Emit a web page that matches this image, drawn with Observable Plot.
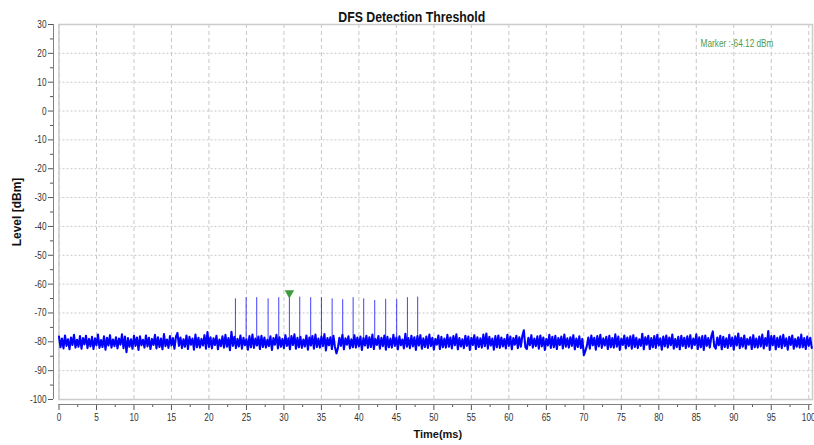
<!DOCTYPE html>
<html><head><meta charset="utf-8">
<script src="https://cdn.jsdelivr.net/npm/d3@7"></script>
<script src="https://cdn.jsdelivr.net/npm/@observablehq/plot@0.6"></script>
<style>
body{margin:0;background:#fff;}
#chart{width:814px;height:445px;}
</style></head><body><div id="chart"></div>
<script>
const title = "DFS Detection Threshold";
const xLabel = "Time(ms)";
const yLabel = "Level [dBm]";
const markerLabel = "Marker :-64.12 dBm";

const xTicks = [0,5,10,15,20,25,30,35,40,45,50,55,60,65,70,75,80,85,90,95,100];
const xMinorTicks = [2.5,7.5,12.5,17.5,22.5,27.5,32.5,37.5,42.5,47.5,52.5,57.5,62.5,67.5,72.5,77.5,82.5,87.5,92.5,97.5];
const yTicks = [-100,-90,-80,-70,-60,-50,-40,-30,-20,-10,0,10,20,30];
const yMinorTicks = [-95,-85,-75,-65,-55,-45,-35,-25,-15,-5,5,15,25];

// noise trace, sampled every 0.2 ms from 0 ms
const traceStart = 0;
const traceStep = 0.2;
const traceLevels = [
-78.2,-81.9,-78.9,-82.3,-77.8,-81.4,-79.1,-82.6,-78.5,-81.1,-77.6,-82.0,-79.3,-81.7,-78.0,-82.4,-78.7,-80.9,-77.9,-82.2,
-79.0,-81.6,-78.3,-82.5,-78.8,-81.2,-77.5,-82.1,-79.4,-81.8,-78.1,-82.7,-78.6,-81.3,-77.7,-82.0,-79.2,-81.5,-78.4,-82.3,
-78.9,-81.0,-77.4,-82.2,-78.2,-83.6,-78.7,-81.7,-79.1,-82.4,-77.9,-81.4,-78.5,-82.8,-78.1,-81.2,-79.3,-82.0,-77.8,-81.6,
-78.6,-82.5,-79.0,-81.1,-77.6,-82.3,-78.4,-81.8,-78.9,-82.6,-77.3,-81.5,-79.2,-82.1,-78.0,-81.3,-78.7,-82.4,-78.2,-76.9,
-81.4,-78.5,-82.2,-79.1,-81.7,-77.8,-82.5,-78.3,-81.0,-78.9,-82.7,-77.5,-81.9,-78.6,-82.0,-79.0,-81.3,-77.7,-82.4,-76.6,
-81.8,-78.4,-82.3,-78.8,-81.1,-77.9,-82.6,-79.2,-81.5,-78.1,-82.0,-77.6,-81.7,-78.7,-82.9,-76.5,-81.4,-78.3,-82.2,-79.0,
-81.6,-77.8,-82.4,-78.6,-81.2,-79.1,-82.7,-78.0,-81.9,-77.5,-82.1,-78.9,-81.3,-78.2,-82.5,-77.9,-81.8,-78.5,-82.0,-79.3,
-81.5,-78.1,-82.8,-78.7,-81.0,-77.6,-82.3,-78.4,-81.7,-79.0,-82.2,-77.7,-81.4,-78.8,-82.6,-78.0,-81.1,-77.4,-82.4,-78.6,
-81.9,-78.3,-82.1,-79.2,-81.6,-77.8,-82.7,-78.5,-81.3,-78.0,-82.4,-77.5,-81.8,-78.9,-82.0,-78.2,-81.5,-77.3,-83.0,-78.7,
-81.2,-78.4,-82.5,-77.9,-81.7,-84.0,-82.2,-78.6,-81.4,-77.6,-82.6,-78.8,-81.0,-78.1,-82.3,-79.1,-81.9,-77.7,-82.0,-78.5,
-81.6,-78.2,-82.8,-78.7,-81.3,-77.9,-82.1,-78.4,-81.8,-77.5,-82.5,-79.0,-81.1,-78.0,-82.4,-78.6,-81.5,-77.8,-82.7,-78.3,
-81.9,-78.9,-82.0,-77.6,-81.4,-78.5,-82.6,-78.1,-81.2,-79.2,-82.3,-77.2,-81.7,-78.7,-82.2,-77.9,-81.6,-78.4,-82.8,-78.0,
-81.3,-77.7,-82.4,-78.8,-81.8,-78.2,-82.1,-77.5,-81.5,-78.6,-82.7,-79.0,-81.0,-77.8,-82.5,-78.3,-81.9,-78.9,-82.0,-77.6,
-81.7,-78.5,-82.3,-78.0,-81.2,-77.4,-82.6,-78.7,-81.6,-79.1,-82.2,-77.9,-81.4,-78.2,-82.8,-78.6,-81.1,-77.7,-82.5,-78.4,
-81.8,-78.8,-82.0,-77.5,-81.5,-77.1,-82.4,-78.3,-81.3,-78.9,-82.7,-78.0,-81.9,-77.8,-82.1,-78.5,-81.6,-79.0,-82.3,-77.6,
-81.4,-78.2,-82.6,-78.7,-81.0,-77.9,-82.2,-78.4,-81.7,-78.0,-76.0,-81.8,-82.5,-78.6,-81.2,-77.7,-82.0,-78.9,-81.5,-78.1,
-82.4,-77.8,-81.6,-78.5,-82.8,-79.0,-81.3,-77.6,-82.1,-78.3,-81.9,-77.9,-82.5,-78.7,-81.1,-78.2,-82.3,-77.5,-81.7,-78.8,
-82.0,-78.4,-81.4,-77.7,-82.6,-78.9,-81.8,-78.1,-82.2,-79.0,-84.6,-83.2,-81.5,-78.5,-82.4,-77.8,-81.2,-78.6,-82.7,-78.0,
-81.6,-77.6,-82.1,-78.8,-81.3,-78.3,-82.5,-77.9,-81.9,-78.7,-82.0,-77.4,-81.7,-78.2,-82.8,-78.9,-81.1,-77.8,-82.3,-78.5,
-81.5,-78.1,-82.4,-77.7,-81.8,-78.6,-82.2,-79.1,-81.4,-77.2,-82.6,-78.4,-81.0,-77.9,-82.5,-78.7,-81.9,-78.0,-82.1,-77.6,
-81.3,-78.8,-82.7,-78.2,-81.6,-77.8,-82.0,-78.5,-81.2,-77.5,-82.4,-79.0,-81.8,-78.3,-82.6,-77.9,-81.5,-78.6,-82.2,-78.1,
-81.7,-77.7,-82.3,-78.9,-81.1,-77.4,-82.5,-78.4,-81.9,-78.0,-82.8,-77.8,-81.4,-78.7,-82.0,-78.2,-76.4,-81.6,-82.4,-78.5,
-81.2,-77.9,-82.6,-78.3,-81.8,-78.8,-82.1,-77.6,-81.5,-78.5,-82.7,-78.1,-81.3,-77.1,-82.2,-78.6,-81.7,-77.8,-82.4,-79.0,
-81.0,-78.4,-82.5,-77.7,-81.9,-78.9,-82.0,-78.2,-81.6,-77.5,-82.3,-78.7,-81.4,-76.3,-82.8,-78.0,-81.2,-77.9,-82.6,-78.6,
-81.8,-78.1,-82.2,-77.6,-81.5,-78.8,-82.7,-78.3,-81.1,-77.8,-82.4,-79.0,-81.7,-78.4,-82.0,-77.5,-81.9,-78.7,-82.5,-78.2,
-81.4,-78.6,-82.1
];

// radar pulses
const pulseTimes  = [23.53,24.96,26.37,27.89,29.31,30.73,32.11,33.57,35.0,36.43,37.84,39.23,40.64,42.11,43.57,45.04,46.47,47.84];
const pulseLevels = [-65.1,-64.7,-64.7,-65.1,-64.7,-64.1,-64.5,-64.7,-64.7,-65.1,-65.4,-64.7,-65.1,-65.7,-65.3,-65.4,-64.7,-64.5];
const pulseBase = -80;

const markerTime = 30.73;
const markerLevel = -64.12;

const trace = traceLevels.map((level, i) => ({t: traceStart + i * traceStep, level}));
const pulses = pulseTimes.map((t, i) => ({t, level: pulseLevels[i], base: pulseBase}));
const marker = [{t: markerTime, level: markerLevel}];

const sans = "'Liberation Sans',Arial,sans-serif";
const fmt = d => String(d);

const chart = Plot.plot({
  width: 814,
  height: 445,
  marginLeft: 58.5,
  marginRight: 2,
  marginTop: 24,
  marginBottom: 46,
  x: {domain: [0, 100.5]},
  y: {domain: [-100, 30]},
  style: {fontFamily: sans, fontSize: "11px", color: "#333", background: "#fff"},
  marks: [
    Plot.gridX(xTicks, {stroke: "#c8c8c8", strokeOpacity: 1, strokeDasharray: "4,3"}),
    Plot.gridY(yTicks, {stroke: "#c8c8c8", strokeOpacity: 1, strokeDasharray: "2,2"}),
    Plot.frame({stroke: "#cccccc", strokeWidth: 1.5}),
    Plot.axisY(yTicks, {anchor: "left", tickSize: 5, tickPadding: 2, dx: -5.5, label: null, stroke: "#555", tickFormat: fmt}),
    Plot.axisY(yMinorTicks, {anchor: "left", tickSize: 3, dx: -5.5, text: null, label: null, stroke: "#555"}),
    Plot.axisX(xTicks, {anchor: "bottom", tickSize: 6, tickPadding: 3, dy: 5, label: null, stroke: "#555", tickFormat: fmt}),
    Plot.axisX(xMinorTicks, {anchor: "bottom", tickSize: 3, dy: 5, text: null, label: null, stroke: "#555"}),
    Plot.ruleX([0], {dx: -5.5, stroke: "#808080"}),
    Plot.ruleY([-100], {dy: 5, stroke: "#808080"}),
    Plot.line(trace, {x: "t", y: "level", stroke: "#0000ff", strokeWidth: 2.1}),
    Plot.ruleX(pulses, {x: "t", y1: "base", y2: "level", stroke: "#0000ff", strokeOpacity: 0.75, strokeWidth: 1}),
    Plot.dot(marker, {x: "t", y: "level", symbol: "triangle", rotate: 180, r: 3.5, fill: "#3d9a3d", stroke: null, dy: -3}),
    Plot.text([markerLabel], {frameAnchor: "top-right", dx: -39, dy: 19, textAnchor: "end", lineAnchor: "middle", fill: "#4e9a4e", fontSize: 11}),
    Plot.text([title], {frameAnchor: "top", dx: -24, dy: -12, textAnchor: "middle", fontWeight: "bold", fontSize: 14, fill: "#111"}),
    Plot.text([yLabel], {frameAnchor: "left", dx: -41.5, rotate: -90, textAnchor: "middle", fontWeight: "bold", fontSize: 12, fill: "#111"}),
    Plot.text([xLabel], {frameAnchor: "bottom", dx: 2, dy: 38, textAnchor: "middle", fontWeight: "bold", fontSize: 11, fill: "#111"})
  ]
});

// condense tick labels, the marker label and the title horizontally (narrow-font look)
const narrowTexts = new Map([[markerLabel, 0.75], [title, 0.88]]);
xTicks.forEach(d => narrowTexts.set(fmt(d), 0.75));
yTicks.forEach(d => narrowTexts.set(fmt(d), 0.75));
chart.querySelectorAll("text").forEach(el => {
  const k = narrowTexts.get(el.textContent.trim().replace(/\u2212/g, "-"));
  if (!k) return;
  const x = +(el.getAttribute("x") || 0);
  const tr = el.getAttribute("transform") || "";
  el.setAttribute("transform", `${tr} translate(${x},0) scale(${k},1) translate(${-x},0)`);
});

document.getElementById("chart").appendChild(chart);
</script>
</body></html>
